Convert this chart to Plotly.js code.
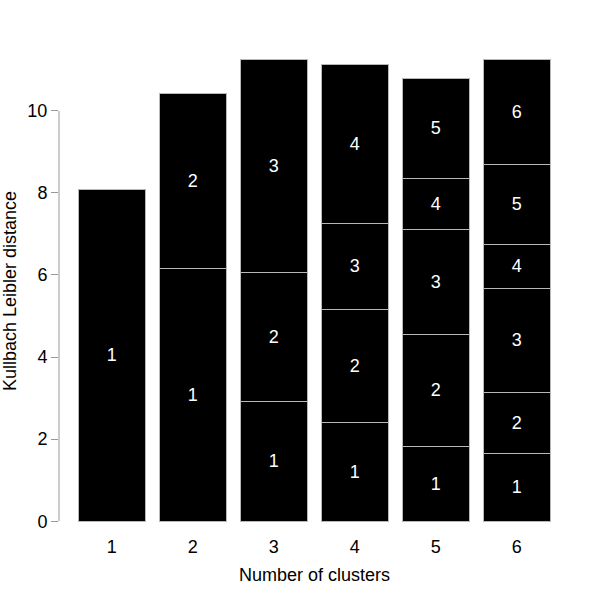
<!DOCTYPE html>
<html>
<head>
<meta charset="utf-8">
<script src="https://cdn.plot.ly/plotly-3.0.1.min.js"></script>
<style>html,body{margin:0;padding:0;background:#fff;}#chart{width:600px;height:600px;}</style>
</head>
<body>
<div id="chart"></div>
<script>
const categories = [1, 2, 3, 4, 5, 6];
const tickLabels = ['1', '2', '3', '4', '5', '6'];
const seg1 = [8.09, 6.17, 2.92, 2.41, 1.83, 1.66];
const seg2 = [null, 4.24, 3.15, 2.75, 2.73, 1.48];
const seg3 = [null, null, 5.17, 2.10, 2.55, 2.53];
const seg4 = [null, null, null, 3.88, 1.25, 1.08];
const seg5 = [null, null, null, null, 2.42, 1.94];
const seg6 = [null, null, null, null, null, 2.56];
const segments = [seg1, seg2, seg3, seg4, seg5, seg6];
const yTicks = [0, 2, 4, 6, 8, 10];

const font = 'Liberation Sans, Arial, Helvetica, sans-serif';
const traces = segments.map((vals, i) => ({
  type: 'bar',
  x: categories,
  y: vals,
  width: 0.827,
  text: vals.map(v => v === null ? '' : String(i + 1)),
  textposition: 'inside',
  insidetextanchor: 'middle',
  textangle: 0,
  constraintext: 'none',
  textfont: {color: '#ffffff', size: 18, family: font},
  marker: {color: '#000000', line: {color: '#b8b8b8', width: 1}},
  hoverinfo: 'skip',
  showlegend: false,
  cliponaxis: false
}));

const layout = {
  width: 600, height: 600,
  margin: {l: 59, r: 30, t: 55, b: 73},
  paper_bgcolor: '#ffffff', plot_bgcolor: '#ffffff',
  barmode: 'stack',
  font: {family: font, size: 18, color: '#000000'},
  xaxis: {
    range: [0.349, 6.658],
    tickvals: categories, ticktext: tickLabels,
    showgrid: false, zeroline: false, showline: false,
    ticks: 'outside', ticklen: 3, tickcolor: 'rgba(0,0,0,0)',
    tickfont: {size: 18, color: '#000'},
    title: {text: 'Number of clusters', font: {size: 18, color: '#000'}, standoff: 12}
  },
  yaxis: {
    range: [-0.14, 11.36],
    tickvals: yTicks,
    showgrid: false, zeroline: false, showline: false,
    ticks: 'outside', ticklen: 7, tickcolor: '#999999', tickwidth: 1,
    tickfont: {size: 18, color: '#000'},
    title: {text: 'Kullbach Leibler distance', font: {size: 18, color: '#000'}, standoff: 12}
  },
  shapes: [{
    type: 'line', xref: 'paper', yref: 'y',
    x0: 0, x1: 0, y0: 0, y1: 10,
    line: {color: '#999999', width: 1}
  }]
};

Plotly.newPlot('chart', traces, layout, {displayModeBar: false, staticPlot: true});
</script>
</body>
</html>
